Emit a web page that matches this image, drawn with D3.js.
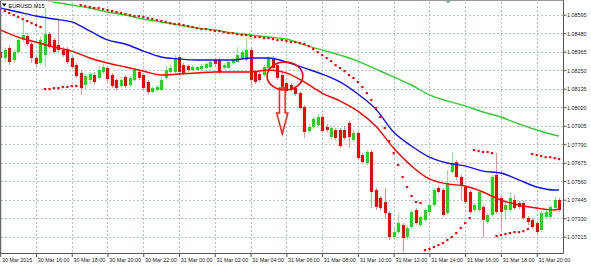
<!DOCTYPE html>
<html>
<head>
<meta charset="utf-8">
<script src="https://cdn.jsdelivr.net/npm/d3@7"></script>
<style>
html, body { margin: 0; padding: 0; background: #fff; }
svg { display: block; font-family: "Liberation Sans", Arial, sans-serif; }
</style>
</head>
<body>
<svg id="viz" width="591" height="267"></svg>
<script>
// EURUSD M15, 30 Mar 14:00 .. 31 Mar 21:15, one entry per bar
var opens = [1.08363,1.08326,1.08388,1.08313,1.08363,1.08438,1.08463,1.08413,1.08326,1.08295,
    1.08344,1.08475,1.08438,1.08407,1.08376,1.08382,1.08326,1.08282,1.08233,1.08158,
    1.08189,1.08220,1.08202,1.08239,1.08264,1.08220,1.08189,1.08152,1.08208,1.08158,
    1.08189,1.08239,1.08220,1.08177,1.08114,1.08127,1.08127,1.08202,1.08239,1.08239,
    1.08332,1.08282,1.08276,1.08251,1.08251,1.08257,1.08264,1.08270,1.08313,1.08313,
    1.08264,1.08264,1.08295,1.08301,1.08326,1.08313,1.08376,1.08239,1.08226,1.08220,
    1.08264,1.08326,1.08282,1.08220,1.08170,1.08158,1.08139,1.08108,1.08021,1.07872,
    1.07897,1.07909,1.07959,1.07897,1.07835,1.07878,1.07878,1.07878,1.07922,1.07816,
    1.07860,1.07723,1.07673,1.07742,1.07505,1.07456,1.07431,1.07362,1.07213,1.07244,
    1.07288,1.07213,1.07275,1.07381,1.07288,1.07319,1.07369,1.07412,1.07518,1.07505,
    1.07362,1.07617,1.07679,1.07586,1.07524,1.07493,1.07381,1.07381,1.07400,1.07306,
    1.07350,1.07599,1.07456,1.07381,1.07381,1.07443,1.07425,1.07425,1.07331,1.07319,
    1.07300,1.07257,1.07338,1.07338,1.07393,1.07443];

var closes = [1.08326,1.08376,1.08301,1.08363,1.08438,1.08469,1.08413,1.08326,1.08289,1.08438,
    1.08475,1.08394,1.08363,1.08376,1.08344,1.08301,1.08270,1.08214,1.08139,1.08214,
    1.08226,1.08177,1.08251,1.08270,1.08195,1.08152,1.08139,1.08189,1.08152,1.08202,
    1.08251,1.08202,1.08139,1.08114,1.08139,1.08146,1.08189,1.08251,1.08264,1.08326,
    1.08239,1.08233,1.08251,1.08270,1.08270,1.08276,1.08289,1.08301,1.08289,1.08239,
    1.08282,1.08301,1.08313,1.08344,1.08363,1.08376,1.08189,1.08177,1.08189,1.08270,
    1.08326,1.08264,1.08202,1.08146,1.08121,1.08127,1.08102,1.08015,1.07866,1.07897,
    1.07947,1.07959,1.07872,1.07878,1.07891,1.07829,1.07779,1.07829,1.07835,1.07860,
    1.07704,1.07679,1.07742,1.07493,1.07400,1.07393,1.07362,1.07213,1.07244,1.07300,
    1.07207,1.07269,1.07369,1.07300,1.07338,1.07381,1.07412,1.07505,1.07493,1.07350,
    1.07549,1.07673,1.07586,1.07536,1.07431,1.07369,1.07412,1.07493,1.07319,1.07350,
    1.07586,1.07369,1.07369,1.07412,1.07456,1.07393,1.07400,1.07331,1.07306,1.07275,
    1.07244,1.07362,1.07369,1.07400,1.07443,1.07381];

var highs = [1.08388,1.08394,1.08407,1.08382,1.08463,1.08562,1.08481,1.08425,1.08338,1.08456,
    1.08637,1.08487,1.08450,1.08562,1.08394,1.08394,1.08338,1.08295,1.08251,1.08226,
    1.08239,1.08239,1.08276,1.08289,1.08276,1.08233,1.08202,1.08208,1.08220,1.08214,
    1.08264,1.08251,1.08233,1.08189,1.08152,1.08158,1.08208,1.08276,1.08282,1.08344,
    1.08344,1.08295,1.08289,1.08282,1.08276,1.08289,1.08301,1.08313,1.08326,1.08326,
    1.08295,1.08313,1.08326,1.08394,1.08376,1.08450,1.08388,1.08251,1.08239,1.08282,
    1.08338,1.08338,1.08295,1.08233,1.08183,1.08170,1.08152,1.08121,1.08034,1.07916,
    1.07959,1.07978,1.07972,1.07916,1.07903,1.07891,1.07891,1.07903,1.07934,1.07878,
    1.07872,1.07735,1.07754,1.07754,1.07518,1.07468,1.07518,1.07375,1.07269,1.07356,
    1.07300,1.07282,1.07381,1.07393,1.07350,1.07393,1.07425,1.07518,1.07530,1.07518,
    1.07630,1.07742,1.07692,1.07599,1.07536,1.07505,1.07425,1.07505,1.07412,1.07362,
    1.07599,1.07735,1.07468,1.07443,1.07493,1.07474,1.07437,1.07437,1.07344,1.07331,
    1.07313,1.07375,1.07381,1.07412,1.07462,1.07456];

var lows = [1.08313,1.08301,1.08282,1.08295,1.08351,1.08425,1.08400,1.08295,1.08270,1.08282,
    1.08270,1.08382,1.08351,1.08363,1.08332,1.08289,1.08257,1.08202,1.08096,1.08127,
    1.08164,1.08158,1.08189,1.08226,1.08177,1.08139,1.08127,1.08139,1.08139,1.08146,
    1.08177,1.08189,1.08127,1.08096,1.08108,1.08114,1.08121,1.08189,1.08226,1.08226,
    1.08226,1.08220,1.08239,1.08245,1.08245,1.08251,1.08257,1.08264,1.08276,1.08226,
    1.08251,1.08257,1.08289,1.08295,1.08313,1.08307,1.08146,1.08164,1.08177,1.08208,
    1.08251,1.08251,1.08189,1.08133,1.08108,1.08114,1.08090,1.08003,1.07829,1.07860,
    1.07885,1.07897,1.07860,1.07866,1.07822,1.07816,1.07766,1.07816,1.07766,1.07804,
    1.07692,1.07667,1.07661,1.07393,1.07381,1.07375,1.07331,1.07195,1.07195,1.07232,
    1.07120,1.07195,1.07263,1.07288,1.07275,1.07306,1.07356,1.07400,1.07481,1.07338,
    1.07350,1.07605,1.07568,1.07443,1.07418,1.07356,1.07369,1.07369,1.07213,1.07294,
    1.07338,1.07356,1.07257,1.07319,1.07369,1.07381,1.07387,1.07319,1.07288,1.07263,
    1.07232,1.07244,1.07325,1.07325,1.07381,1.07369];

// parabolic SAR, one dot per bar
var sar = [1.08630,1.08618,1.08606,1.08593,1.08581,1.08568,1.08556,1.08543,1.08531,1.08519,
    1.08133,1.08133,1.08139,1.08139,1.08146,1.08146,1.08152,1.08152,
    1.08655,1.08649,1.08643,1.08637,1.08637,1.08630,1.08624,1.08618,1.08612,1.08606,
    1.08599,1.08593,1.08587,1.08587,1.08581,1.08575,1.08568,1.08562,1.08556,1.08550,
    1.08543,1.08537,1.08537,1.08531,1.08525,1.08519,1.08512,
    1.08506,1.08506,1.08500,1.08494,1.08494,1.08487,1.08481,1.08481,1.08475,1.08469,
    1.08469,1.08463,1.08456,1.08456,1.08450,1.08450,1.08444,1.08438,1.08438,1.08432,
    1.08425,1.08425,1.08419,
    1.08413,1.08400,1.08382,1.08363,1.08344,1.08326,1.08307,1.08282,1.08264,1.08245,
    1.08220,1.08202,1.08177,1.08146,1.08108,1.08065,1.08015,1.07959,1.07891,1.07810,
    1.07735,1.07661,1.07586,1.07524,1.07468,1.07431,1.07425,
    1.07132,1.07139,1.07151,1.07164,1.07176,1.07195,1.07213,1.07238,1.07269,1.07300,1.07331,
    1.07754,1.07748,1.07742,1.07742,1.07735,
    1.07219,1.07226,1.07232,1.07238,1.07244,1.07244,1.07250,1.07263,
    1.07729,1.07723,1.07717,1.07710,1.07710,1.07704,1.07698];

// moving averages read hourly (bar index in maBars)
var maBars = [0,4,8,12,16,20,24,28,32,36,40,44,48,52,56,60,64,68,72,76,80,84,88,92,96,100,104,108,112,116,120,124,125];
var maRed = [1.08500,1.08456,1.08425,1.08394,1.08369,1.08326,1.08295,1.08270,1.08245,1.08220,1.08226,
    1.08233,1.08239,1.08239,1.08239,1.08251,1.08233,1.08177,1.08108,1.08059,1.07996,1.07903,
    1.07766,1.07655,1.07574,1.07543,1.07530,1.07493,1.07443,1.07412,1.07393,1.07381,1.07387];
var maBlue = [1.08637,1.08612,1.08587,1.08568,1.08550,1.08494,1.08438,1.08413,1.08369,1.08332,1.08320,
    1.08313,1.08313,1.08313,1.08326,1.08326,1.08301,1.08264,1.08226,1.08177,1.08102,1.08009,
    1.07866,1.07779,1.07710,1.07673,1.07655,1.07623,1.07611,1.07568,1.07524,1.07505,1.07505];
var maGreen = [1.08736,1.08717,1.08699,1.08674,1.08655,1.08637,1.08612,1.08593,1.08568,1.08550,1.08531,
    1.08512,1.08500,1.08481,1.08469,1.08456,1.08444,1.08407,1.08376,1.08344,1.08307,1.08257,
    1.08208,1.08158,1.08096,1.08059,1.08028,1.07990,1.07959,1.07916,1.07878,1.07847,1.07841];

var priceTicks = [1.08595,1.08480,1.08365,1.08250,1.08135,1.08020,1.07905,1.07790,1.07675,1.07560,1.07445,1.07330,1.07215];
var timeTickBars = [0,8,16,24,32,40,48,56,64,72,80,88,96,104,112,120];
var timeLabels = ["30 Mar 2015","30 Mar 16:00","30 Mar 18:00","30 Mar 20:00","30 Mar 22:00","31 Mar 00:00",
    "31 Mar 02:00","31 Mar 04:00","31 Mar 06:00","31 Mar 08:00","31 Mar 10:00","31 Mar 12:00",
    "31 Mar 14:00","31 Mar 16:00","31 Mar 18:00","31 Mar 20:00"];

// hand drawn marks on the chart
var ring = { bar: 63.7, price: 1.08214, bars: 4, span: 0.00087 };
var arrow = { bar: 63.1, top: 1.08139, neck: 1.07984, tip: 1.07853, shaft: 0.63, head: 1.25 };

var bull = "#11e011", bear = "#ff0000";
var bullWick = "#88ee88", bearWick = "#ff8a8a";

var svg = d3.select("#viz");
var plotW = 563.5, plotH = 253.5;

var x = d3.scaleLinear().domain([0, 125]).range([0.2, 559.0]);
var y = d3.scaleLinear().domain([1.07215, 1.08595]).range([236.7, 14.7]);

svg.append("rect").attr("width", 591).attr("height", 267).attr("fill", "#fff");

svg.append("defs").append("clipPath").attr("id", "plot")
    .append("rect").attr("x", 1).attr("y", 1.5).attr("width", plotW - 1.5).attr("height", plotH - 1.5);

// grid
var grid = svg.append("g").attr("stroke", "#b2c6c6").attr("stroke-dasharray", "2,2").attr("stroke-width", 1);
grid.selectAll("line.h").data(priceTicks).enter().append("line")
    .attr("x1", 1).attr("x2", plotW)
    .attr("y1", function (d) { return Math.round(y(d)) + 0.5; })
    .attr("y2", function (d) { return Math.round(y(d)) + 0.5; });
grid.selectAll("line.v").data(timeTickBars.slice(1)).enter().append("line")
    .attr("y1", 2).attr("y2", plotH)
    .attr("x1", function (d) { return Math.round(x(d)) + 0.5; })
    .attr("x2", function (d) { return Math.round(x(d)) + 0.5; });

var chart = svg.append("g").attr("clip-path", "url(#plot)");

// candles
var bars = d3.range(opens.length).map(function (i) {
    return { i: i, o: opens[i], c: closes[i], h: highs[i], l: lows[i] };
});
var candle = chart.selectAll("g.candle").data(bars).enter().append("g");
candle.append("line")
    .attr("x1", function (d) { return Math.round(x(d.i)) + 0.5; })
    .attr("x2", function (d) { return Math.round(x(d.i)) + 0.5; })
    .attr("y1", function (d) { return y(d.h); })
    .attr("y2", function (d) { return y(d.l); })
    .attr("stroke", function (d) { return d.c >= d.o ? bullWick : bearWick; })
    .attr("stroke-width", 1);
candle.append("rect")
    .attr("x", function (d) { return Math.round(x(d.i)) - 1; })
    .attr("width", 3)
    .attr("y", function (d) { return y(Math.max(d.o, d.c)); })
    .attr("height", function (d) { return Math.max(1, Math.abs(y(d.o) - y(d.c))); })
    .attr("fill", function (d) { return d.c >= d.o ? bull : bear; });

// moving averages
var maLine = d3.line()
    .x(function (d, i) { return x(maBars[i]); })
    .y(function (d) { return y(d); })
    .curve(d3.curveMonotoneX);
[[maGreen, "#33cc33"], [maBlue, "#1010f0"], [maRed, "#ff0000"]].forEach(function (m) {
    chart.append("path").attr("d", maLine(m[0]))
        .attr("fill", "none").attr("stroke", m[1]).attr("stroke-width", 1.4);
});

// SAR dots
chart.selectAll("rect.sar").data(sar).enter().append("rect")
    .attr("x", function (d, i) { return x(i) - 1; })
    .attr("y", function (d) { return y(d) - 1; })
    .attr("width", 2.2).attr("height", 2.2)
    .attr("fill", "#ff0000");

// annotation ring and arrow
chart.append("ellipse")
    .attr("cx", x(ring.bar)).attr("cy", y(ring.price))
    .attr("rx", x(ring.bar + ring.bars) - x(ring.bar))
    .attr("ry", y(ring.price - ring.span) - y(ring.price))
    .attr("fill", "none").attr("stroke", "#ff0000").attr("stroke-width", 1.6);

var ax = function (dx) { return x(arrow.bar + dx); };
var arrowPts = [[ax(-arrow.shaft), y(arrow.top)], [ax(arrow.shaft), y(arrow.top)],
    [ax(arrow.shaft), y(arrow.neck)], [ax(arrow.head), y(arrow.neck)],
    [ax(0), y(arrow.tip)], [ax(-arrow.head), y(arrow.neck)], [ax(-arrow.shaft), y(arrow.neck)]];
chart.append("path").attr("d", d3.line()(arrowPts) + "Z")
    .attr("fill", "none").attr("stroke", "#ff2020").attr("stroke-width", 1.5)
    .attr("stroke-linejoin", "miter");

// chart shift marker
svg.append("path")
    .attr("d", "M" + (x(100.2) - 2.5) + ",0.5L" + (x(100.2) + 2.5) + ",0.5L" + x(100.2) + ",3.5Z")
    .attr("fill", "#6f9c9c");

// frame
svg.append("line").attr("x1", 0.5).attr("x2", 0.5).attr("y1", 0).attr("y2", plotH).attr("stroke", "#6a6a6a").attr("stroke-width", 1.5);
svg.append("line").attr("x1", 0).attr("x2", plotW).attr("y1", 0.5).attr("y2", 0.5).attr("stroke", "#9a9a9a");
svg.append("line").attr("x1", plotW).attr("x2", plotW).attr("y1", 0).attr("y2", plotH).attr("stroke", "#555");
svg.append("line").attr("x1", 0).attr("x2", plotW).attr("y1", plotH).attr("y2", plotH).attr("stroke", "#555");

// axes
var yAxis = d3.axisRight(y).tickValues(priceTicks).tickFormat(d3.format(".5f")).tickSize(3).tickSizeOuter(0);
var gy = svg.append("g").attr("transform", "translate(" + plotW + ",0)").call(yAxis);
gy.select(".domain").remove();
gy.selectAll(".tick line").attr("stroke", "#555");
gy.selectAll(".tick text").attr("x", 3.5).attr("dy", "0.36em")
    .attr("font-size", "5.4px").attr("fill", "#222").attr("font-family", "Liberation Sans, Arial, sans-serif");

var xAxis = d3.axisBottom(x).tickValues(timeTickBars)
    .tickFormat(function (d, i) { return timeLabels[i]; }).tickSize(3.5).tickSizeOuter(0);
var gx = svg.append("g").attr("transform", "translate(0," + plotH + ")").call(xAxis);
gx.select(".domain").remove();
gx.selectAll(".tick line").attr("stroke", "#555");
gx.selectAll(".tick text").attr("text-anchor", "start").attr("x", 1.3).attr("y", 8.6).attr("dy", 0)
    .attr("font-size", "5.4px").attr("fill", "#222").attr("font-family", "Liberation Sans, Arial, sans-serif");

// title
svg.append("path").attr("d", "M2,3.5L6.5,3.5L4.25,6.5Z").attr("fill", "#000");
svg.append("text").attr("x", 8.5).attr("y", 8)
    .attr("font-size", "5.6px").attr("fill", "#000").text("EURUSD,M15");
</script>
</body>
</html>
